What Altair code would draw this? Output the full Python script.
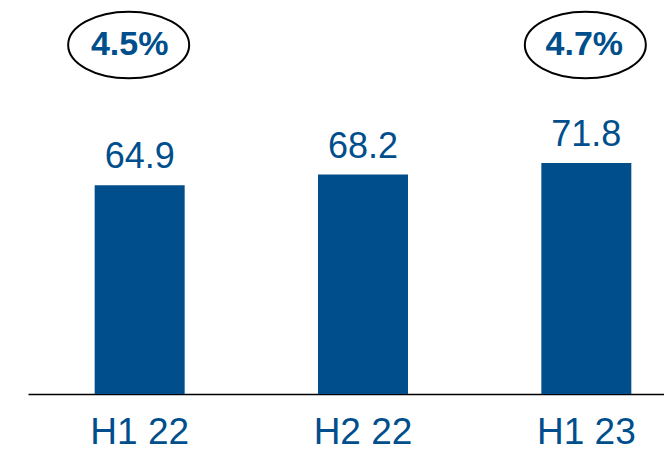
import altair as alt
import pandas as pd

periods = ["H1 22", "H2 22", "H1 23"]
values = [64.9, 68.2, 71.8]
growth_periods = ["H1 22", "H1 23"]
growth_labels = ["4.5%", "4.7%"]

BLUE = "#004f8c"
FONT = "Liberation Sans"

df = pd.DataFrame({"period": periods, "value": values})
gdf = pd.DataFrame({"period": growth_periods, "growth": growth_labels})

xscale = alt.Scale(range=[0, 670], paddingInner=0.597, paddingOuter=0.2985)
x = alt.X(
    "period:N",
    sort=periods,
    scale=xscale,
    axis=alt.Axis(
        title=None,
        ticks=False,
        tickSize=0,
        labelPadding=20,
        labelFontSize=37,
        labelFont=FONT,
        labelColor=BLUE,
        labelAngle=0,
        domainColor="black",
        domainWidth=1.5,
        grid=False,
    ),
)
y = alt.Y("value:Q", scale=alt.Scale(domain=[0, 120]), axis=None)

bars = alt.Chart(df).mark_bar(color=BLUE).encode(x=x, y=y)
vals = alt.Chart(df).mark_text(
    dy=-17, fontSize=36, font=FONT, color=BLUE, baseline="alphabetic"
).encode(x=x, y=y, text=alt.Text("value:Q", format=".1f"))

ELLIPSE = ("M -1 0 C -1 -0.3038 -0.5523 -0.55 0 -0.55 "
           "C 0.5523 -0.55 1 -0.3038 1 0 "
           "C 1 0.3038 0.5523 0.55 0 0.55 "
           "C -0.5523 0.55 -1 0.3038 -1 0 Z")

layers = [bars, vals]
offsets = {"H1 22": (-11, -10), "H1 23": (-1, -2)}
for p in growth_periods:
    eo, to = offsets[p]
    base = alt.Chart(gdf).transform_filter(alt.datum.period == p)
    ell = base.mark_point(
        shape=ELLIPSE, size=14641, filled=False, stroke="black",
        strokeWidth=2, opacity=1, xOffset=eo
    ).encode(x=alt.X("period:N", sort=periods), y=alt.value(37))
    txt = base.mark_text(
        fontSize=34, font=FONT, fontWeight="bold", color=BLUE,
        baseline="middle", xOffset=to
    ).encode(x=alt.X("period:N", sort=periods), y=alt.value(37), text="growth:N")
    layers += [ell, txt]

chart = alt.layer(*layers).properties(
    width=636,
    height=386,
    autosize=alt.AutoSizeParams(type="none"),
    padding={"left": 20, "top": 0, "right": 0, "bottom": 59},
    background="white",
).configure_view(stroke=None)

chart.save("out.html", embed_options={"renderer": "svg", "actions": False})
